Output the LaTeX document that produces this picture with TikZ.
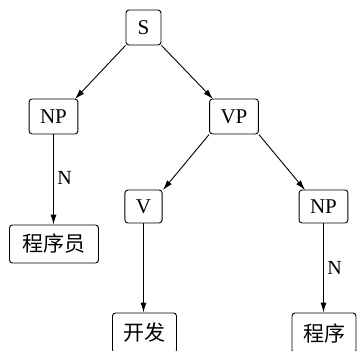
\documentclass[tikz,border=0pt]{standalone}
\usepackage{fontspec}
\setmainfont{Liberation Serif}
\newfontfamily\cjk{Noto Sans CJK SC}
\usetikzlibrary{arrows.meta}
\begin{document}
\begin{tikzpicture}[x=1pt,y=-1pt,
  tn/.style={draw, rounded corners=3pt, line width=0.9pt, minimum height=35pt, minimum width=35pt, inner xsep=11pt, font=\fontsize{21}{23}\selectfont},
  arr/.style={line width=0.9pt, -{Latex[length=10pt,width=6pt]}},
  lab/.style={font=\fontsize{20}{22}\selectfont}]
\useasboundingbox (0,0) rectangle (357,351);
\clip (0,0) rectangle (357,351);
\node[tn] (s) at (143.5,27.5) {S};
\node[tn] (np1) at (53.5,116.5) {NP};
\node[tn] (vp) at (234,116.5) {VP};
\node[tn, minimum height=33pt] (v) at (143.5,206.5) {V};
\node[tn, minimum height=33pt] (np2) at (323.5,206.5) {NP};
\node[tn, minimum height=38pt, inner xsep=13pt] (w1) at (54,244) {\cjk 程序员};
\node[tn, minimum height=40pt] (w2) at (144.5,333) {\cjk 开发};
\node[tn, minimum height=40pt] (w3) at (324,333) {\cjk 程序};
\draw[arr] (s.south west) -- (75,99);
\draw[arr] (s.south east) -- (213,99);
\draw[arr] (vp.south west) -- (163,190);
\draw[arr] (vp.south east) -- (305,190);
\draw[arr] (np1.south) -- node[lab, right, pos=0.48] {N} (np1.south |- w1.north);
\draw[arr] (v.south) -- (v.south |- w2.north);
\draw[arr] (np2.south) -- node[lab, right, pos=0.5] {N} (np2.south |- w3.north);
\end{tikzpicture}
\end{document}
